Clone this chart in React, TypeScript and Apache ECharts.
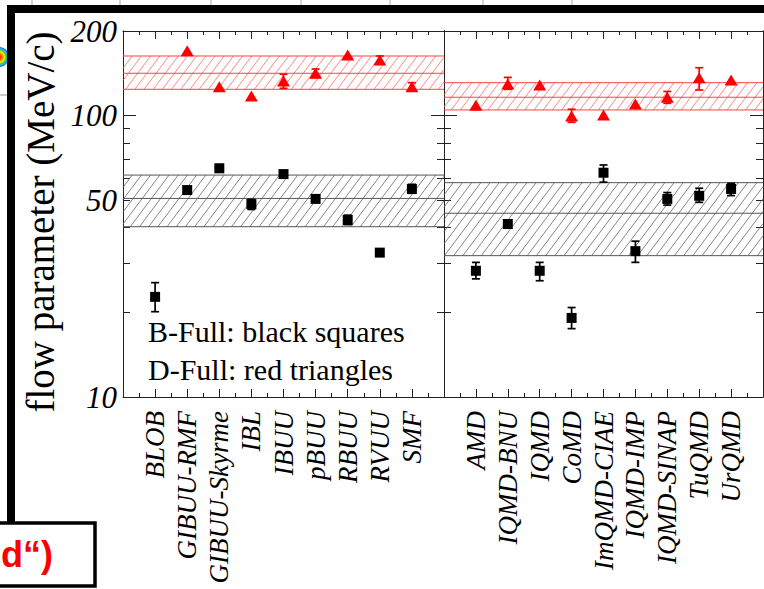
import React, { useEffect, useRef } from 'react';
import * as echarts from 'echarts';

// ---------- data ----------
const bCategories = ['BLOB', 'GIBUU-RMF', 'GIBUU-Skyrme', 'IBL', 'IBUU', 'pBUU', 'RBUU', 'RVUU', 'SMF'];
const qCategories = ['AMD', 'IQMD-BNU', 'IQMD', 'CoMD', 'ImQMD-CIAE', 'IQMD-IMP', 'IQMD-SINAP', 'TuQMD', 'UrQMD'];

// B-Full (black squares), transport codes
const bSquare = [22.7, 54.4, 65.0, 48.5, 62.0, 50.6, 42.6, 32.6, 54.9];
const bSquareLow = [20.1, null, 63.0, 46.4, null, null, 41.0, null, 53.0];
const bSquareHigh = [25.5, null, 67.0, 50.4, null, null, 44.3, null, 57.0];
// D-Full (red triangles), transport codes
const bTriangle = [null, 170, 126.8, 117.5, 132.9, 141.5, 164.4, 157.8, 126.8];
const bTriangleLow = [null, null, null, null, 125.1, 136.7, null, 152.5, 123.0];
const bTriangleHigh = [null, null, null, null, 140.4, 146.5, null, 163.0, 131.0];

// QMD codes
const qSquare = [28.1, 41.2, 28.1, 19.1, 62.7, 33.0, 50.6, 51.9, 54.9];
const qSquareLow = [26.3, 40.0, 25.9, 17.5, 58.0, 30.1, 48.1, 49.2, 52.0];
const qSquareHigh = [30.1, 42.5, 30.1, 20.8, 66.8, 35.8, 53.3, 55.2, 57.5];
const qTriangle = [108.9, 129.6, 128.6, 99.7, 100.6, 110.1, 116.3, 136.5, 134.0];
const qTriangleLow = [null, 124.1, null, 94.7, null, null, 110.7, 123.4, null];
const qTriangleHigh = [null, 136.8, null, 105.4, null, null, 121.9, 148.1, null];

// bands: [low, center, high]
const bBlackBand = [40.3, 50.8, 61.5];
const bRedBand = [124.1, 141.5, 163.0];
const qBlackBand = [31.8, 45.0, 57.8];
const qRedBand = [104.8, 116.3, 131.0];

const yMajorTicks = [10, 100];
const yMinorTicks = [20, 30, 40, 50, 60, 70, 80, 90, 199.99];
const yTickLabels = [10, 50, 100, 199.99];

const legendLines = ['B-Full: black squares', 'D-Full: red triangles'];
const yTitle = 'flow parameter (MeV/c)';
const cornerText = 'd“)';

// ---------- helpers ----------
const AX = '#222';
const SERIF = '"Liberation Serif", "Times New Roman", serif';

function pts(vals: (number | null)[]) {
  const out: number[][] = [];
  vals.forEach((v, i) => { if (v != null) out.push([i, v]); });
  return out;
}
function errs(lo: (number | null)[], hi: (number | null)[]) {
  const out: number[][] = [];
  lo.forEach((l, i) => { const h = hi[i]; if (l != null && h != null) out.push([i, l, h]); });
  return out;
}

function xAxisDef(gridIndex: number, position: string, cats: string[] | null) {
  return {
    type: 'value', gridIndex, position, min: -1, max: 9, interval: 1,
    axisLine: { show: true, onZero: false, lineStyle: { color: AX, width: 1 } },
    axisTick: { show: true, inside: true, length: 8, lineStyle: { color: AX, width: 1 } },
    minorTick: { show: true, splitNumber: 2, length: 4, lineStyle: { color: AX, width: 1 } },
    splitLine: { show: false }, minorSplitLine: { show: false },
    axisLabel: cats ? {
      show: true, rotate: 90, margin: 14, color: '#000',
      fontFamily: SERIF, fontStyle: 'italic', fontSize: 27,
      formatter: (v: number) => { const i = Math.round(v); return cats[i] ?? ''; },
      showMinLabel: true, showMaxLabel: true, hideOverlap: false,
    } : { show: false },
  };
}

function yAxisDef(gridIndex: number, position: string, major: boolean, labels: boolean) {
  return {
    type: 'log', logBase: 10, gridIndex, position, min: 10, max: 200,
    axisLine: { show: true, onZero: false, lineStyle: { color: AX, width: 1 } },
    axisTick: {
      show: true, inside: true, length: major ? 13 : 7,
      customValues: major ? yMajorTicks : yMinorTicks,
      lineStyle: { color: AX, width: 1 },
    },
    splitLine: { show: false },
    axisLabel: labels ? {
      show: true, customValues: yTickLabels, margin: 6, color: '#000',
      fontFamily: SERIF, fontStyle: 'italic', fontSize: 31,
      formatter: (v: number) => String(Math.round(v)),
    } : { show: false },
  };
}

function bandSeries(xi: number, yi: number, band: number[], color: string, hatch: string) {
  return {
    type: 'custom', xAxisIndex: xi, yAxisIndex: yi, z: 1, silent: true,
    data: [[0, band[0], band[1], band[2]]],
    encode: { x: 0, y: [1, 2, 3] },
    renderItem: (params: any, api: any) => {
      const cs = params.coordSys;
      const x0 = cs.x, x1 = cs.x + cs.width;
      const yBot = api.coord([0, api.value(1)])[1];
      const yMid = api.coord([0, api.value(2)])[1];
      const yTop = api.coord([0, api.value(3)])[1];
      const h = yBot - yTop;
      const k = 0.75;
      const span = h * k;
      const children: any[] = [];
      const step = 9.2;
      for (let s = x0 - span; s < x1; s += step) {
        const tMin = Math.max(0, (x0 - s) / span);
        const tMax = Math.min(1, (x1 - s) / span);
        if (tMin >= tMax) continue;
        children.push({
          type: 'line',
          shape: { x1: s + tMin * span, y1: yBot - tMin * h, x2: s + tMax * span, y2: yBot - tMax * h },
          style: { stroke: hatch, lineWidth: 0.8 },
        });
      }
      [yBot, yMid, yTop].forEach((y) => children.push({
        type: 'line', shape: { x1: x0, y1: y, x2: x1, y2: y }, style: { stroke: color, lineWidth: 1 },
      }));
      return { type: 'group', children };
    },
  };
}

function errSeries(xi: number, yi: number, data: number[][], color: string) {
  return {
    type: 'custom', xAxisIndex: xi, yAxisIndex: yi, z: 3, silent: true,
    data, encode: { x: 0, y: [1, 2] },
    renderItem: (_p: any, api: any) => {
      const x = api.value(0);
      const a = api.coord([x, api.value(1)]);
      const b = api.coord([x, api.value(2)]);
      const w = 4;
      const st = { stroke: color, lineWidth: 1.7 };
      return {
        type: 'group', children: [
          { type: 'line', shape: { x1: a[0], y1: a[1], x2: b[0], y2: b[1] }, style: st },
          { type: 'line', shape: { x1: a[0] - w, y1: a[1], x2: a[0] + w, y2: a[1] }, style: st },
          { type: 'line', shape: { x1: b[0] - w, y1: b[1], x2: b[0] + w, y2: b[1] }, style: st },
        ],
      };
    },
  };
}

function squareSeries(xi: number, yi: number, vals: (number | null)[]) {
  return {
    type: 'scatter', xAxisIndex: xi, yAxisIndex: yi, z: 4, silent: true,
    symbol: 'rect', symbolSize: 10, itemStyle: { color: '#000', opacity: 1 },
    data: pts(vals),
  };
}
function triangleSeries(xi: number, yi: number, vals: (number | null)[]) {
  return {
    type: 'scatter', xAxisIndex: xi, yAxisIndex: yi, z: 4, silent: true,
    symbol: 'triangle', symbolSize: [13, 11], itemStyle: { color: '#ff0000', opacity: 1 },
    data: pts(vals),
  };
}

export default function App() {
  const ref = useRef<HTMLDivElement>(null);
  useEffect(() => {
    if (!ref.current) return;
    const chart = echarts.init(ref.current, null, { renderer: 'svg' });
    const option: any = {
      animation: false,
      backgroundColor: '#ffffff',
      grid: [
        { left: 123, top: 31, width: 321, height: 366, containLabel: false },
        { left: 444, top: 31, width: 319, height: 366, containLabel: false },
      ],
      xAxis: [
        xAxisDef(0, 'bottom', bCategories),
        xAxisDef(0, 'top', null),
        xAxisDef(1, 'bottom', qCategories),
        xAxisDef(1, 'top', null),
      ],
      yAxis: [
        yAxisDef(0, 'left', true, true),
        yAxisDef(0, 'left', false, false),
        yAxisDef(0, 'right', true, false),
        yAxisDef(0, 'right', false, false),
        yAxisDef(1, 'left', true, false),
        yAxisDef(1, 'left', false, false),
        yAxisDef(1, 'right', true, false),
        yAxisDef(1, 'right', false, false),
      ],
      series: [
        bandSeries(0, 0, bBlackBand, '#555', '#666'),
        bandSeries(0, 0, bRedBand, '#ff4040', '#ff6a6a'),
        bandSeries(2, 4, qBlackBand, '#555', '#666'),
        bandSeries(2, 4, qRedBand, '#ff4040', '#ff6a6a'),
        errSeries(0, 0, errs(bSquareLow, bSquareHigh), '#000'),
        errSeries(0, 0, errs(bTriangleLow, bTriangleHigh), '#ff0000'),
        errSeries(2, 4, errs(qSquareLow, qSquareHigh), '#000'),
        errSeries(2, 4, errs(qTriangleLow, qTriangleHigh), '#ff0000'),
        squareSeries(0, 0, bSquare),
        triangleSeries(0, 0, bTriangle),
        squareSeries(2, 4, qSquare),
        triangleSeries(2, 4, qTriangle),
      ],
      graphic: [
        ...[32, 120, 211, 301, 390, 483, 572].map((x) => ({
          type: 'line', shape: { x1: x, y1: 0, x2: x, y2: 5 }, style: { stroke: '#aaa', lineWidth: 1 },
        })),
        { type: 'line', shape: { x1: 0, y1: 95, x2: 7, y2: 95 }, style: { stroke: '#bbb', lineWidth: 1.5 } },
        {
          type: 'circle', shape: { cx: -1, cy: 57, r: 10 },
          style: {
            fill: new echarts.graphic.RadialGradient(0.5, 0.5, 0.5, [
              { offset: 0, color: '#ff0000' },
              { offset: 0.35, color: '#ff8800' },
              { offset: 0.55, color: '#ffee00' },
              { offset: 0.7, color: '#33dd33' },
              { offset: 0.85, color: '#22aaff' },
              { offset: 1, color: '#3344ff' },
            ]),
          },
        },
        { type: 'rect', shape: { x: 7, y: 5, width: 760, height: 8 }, style: { fill: '#000' } },
        { type: 'rect', shape: { x: 7, y: 5, width: 8, height: 518 }, style: { fill: '#000' } },
        { type: 'rect', shape: { x: -5, y: 523, width: 100, height: 63 }, style: { fill: '#fff', stroke: '#000', lineWidth: 3.5 } },
        {
          type: 'text', x: 1, y: 554,
          style: { text: cornerText, font: 'bold 36px "Liberation Sans", Arial, sans-serif', fill: '#ff0000', align: 'left', verticalAlign: 'middle' },
        },
        {
          type: 'text', x: 40, y: 222, rotation: Math.PI / 2,
          style: { text: yTitle, font: `39px ${SERIF}`, fill: '#000', align: 'center', verticalAlign: 'middle' },
        },
        ...legendLines.map((t, i) => ({
          type: 'text', x: 148, y: 331 + i * 38.5,
          style: { text: t, font: `30px ${SERIF}`, fill: '#000', align: 'left', verticalAlign: 'middle' },
        })),
      ],
    };
    chart.setOption(option);
    return () => chart.dispose();
  }, []);
  return (
    <div
      ref={ref}
      style={{ position: 'absolute', left: 0, top: 0, width: 764, height: 589, background: '#fff' }}
    />
  );
}
